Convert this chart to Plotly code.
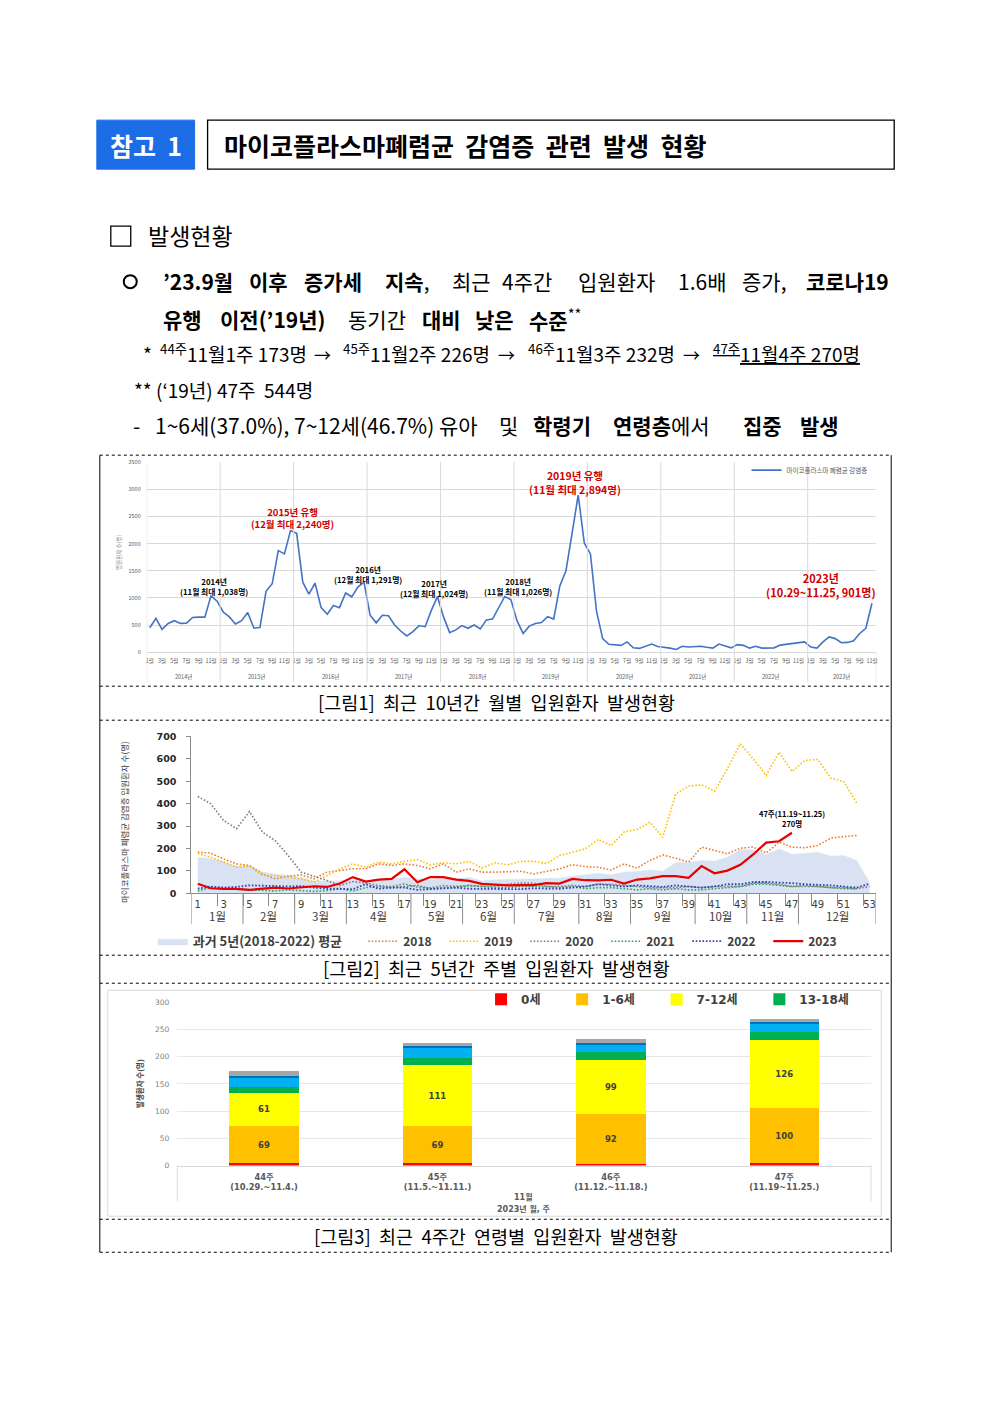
import plotly.graph_objects as go

# ---------------- data: figure 1 (monthly inpatients, 2014.1 ~ 2023.11) ----------------
years_m = [2014, 2015, 2016, 2017, 2018, 2019, 2020, 2021, 2022, 2023]
m2014 = [450, 625, 420, 530, 580, 530, 535, 640, 645, 645, 1038, 940]
m2015 = [740, 650, 520, 580, 730, 445, 455, 1120, 1260, 1870, 1810, 2240]
m2016 = [2190, 1290, 1070, 1270, 820, 700, 860, 820, 1090, 1020, 1200, 1291]
m2017 = [680, 540, 680, 670, 500, 390, 300, 380, 490, 470, 770, 1024]
m2018 = [650, 360, 410, 490, 440, 500, 430, 595, 610, 830, 1026, 970]
m2019 = [580, 345, 480, 530, 545, 655, 610, 1220, 1500, 2190, 2894, 2010]
m2020 = [1810, 750, 250, 145, 130, 125, 190, 80, 70, 110, 150, 105]
m2021 = [95, 75, 50, 110, 95, 100, 110, 90, 75, 150, 120, 80]
m2022 = [140, 125, 75, 110, 75, 75, 80, 130, 145, 150, 170, 190]
m2023 = [95, 75, 190, 280, 250, 175, 180, 210, 345, 440, 901]
monthly_series = [m2014, m2015, m2016, m2017, m2018, m2019, m2020, m2021, m2022, m2023]
month_tick_months = [1, 3, 5, 7, 9, 11]

# ---------------- data: figure 2 (weekly inpatients) ----------------
weeks = list(range(1, 54))
avg_2018_2022 = [160, 155, 140, 120, 125, 95, 85, 80, 70, 55, 55, 55, 60, 55, 60, 65, 70, 65, 60, 65,
                 65, 70, 55, 60, 61, 62, 64, 65, 67, 76, 82, 89, 82, 94, 97, 104, 98, 136, 136, 146,
                 143, 161, 194, 194, 173, 198, 173, 179, 183, 165, 168, 146, 49]
w2018 = [183, 179, 153, 131, 124, 86, 64, 76, 82, 64, 94, 101, 109, 109, 131, 124, 131, 124, 109, 131,
         94, 109, 94, 94, 97, 98, 86, 97, 109, 127, 119, 116, 104, 131, 112, 146, 171, 156, 139, 206,
         191, 176, 201, 206, 180, 228, 206, 203, 213, 246, 253, 258, None]
w2019 = [176, 161, 139, 116, 121, 79, 79, 72, 64, 49, 79, 109, 131, 116, 139, 131, 142, 150, 127, 136,
         131, 142, 112, 136, 127, 142, 142, 133, 168, 183, 198, 240, 213, 273, 285, 317, 250, 444, 478, 484,
         456, 556, 668, 600, 526, 630, 544, 593, 598, 514, 499, 404, None]
w2020 = [432, 400, 325, 288, 365, 273, 235, 168, 94, 76, 57, 34, 52, 45, 34, 30, 42, 27, 24, 34,
         31, 34, 30, 30, 40, 45, 45, 30, 30, 35, 30, 40, 40, 35, 30, 25, 25, 25, 30, 25,
         30, 30, 30, 45, 45, 40, 30, 30, 30, 25, 25, 20, 30]
w2021 = [10, 25, 20, 18, 15, 15, 10, 15, 12, 8, 12, 20, 10, 25, 30, 25, 30, 35, 20, 25,
         25, 35, 30, 25, 25, 30, 30, 30, 25, 30, 20, 25, 25, 20, 15, 20, 15, 20, 15, 15,
         20, 25, 30, 40, 40, 35, 30, 35, 30, 25, 20, 20, None]
w2022 = [20, 30, 25, 28, 35, 35, 32, 30, 32, 25, 20, 20, 18, 40, 20, 25, 25, 15, 18, 20,
         25, 20, 20, 20, 20, 18, 22, 20, 20, 25, 30, 40, 35, 30, 35, 30, 28, 35, 30, 25,
         30, 40, 40, 50, 50, 48, 45, 40, 38, 35, 30, 25, 42]
w2023 = [42, 22, 19, 19, 15, 19, 25, 21, 25, 31, 28, 43, 72, 52, 61, 64, 107, 49, 72, 72,
         61, 55, 42, 37, 35, 36, 36, 45, 43, 64, 58, 57, 60, 43, 61, 66, 76, 76, 69, 121,
         89, 101, 127, 173, 226, 232, 270]
month_names = ["1월", "2월", "3월", "4월", "5월", "6월", "7월", "8월", "9월", "10월", "11월", "12월"]
month_first_week = [1, 5, 9, 13, 18, 22, 26, 31, 35, 40, 44, 48, 54]

# ---------------- data: figure 3 (age groups, last 4 weeks) ----------------
week_labels = ["44주<br>(10.29.~11.4.)", "45주<br>(11.5.~11.11.)",
               "46주<br>(11.12.~11.18.)", "47주<br>(11.19~11.25.)"]
age_groups = ["0세", "1-6세", "7-12세", "13-18세", "19-49세", "50-64세", "65세 이상"]
age_0 = [4, 4, 3, 5]
age_1_6 = [69, 69, 92, 100]
age_7_12 = [61, 111, 99, 126]
age_13_18 = [11, 14, 14, 15]
age_19_49 = [17, 18, 13, 14]
age_50_64 = [3, 3, 5, 4]
age_65 = [8, 7, 6, 6]
age_series = [age_0, age_1_6, age_7_12, age_13_18, age_19_49, age_50_64, age_65]
age_colors = ["#FF0000", "#FFC000", "#FFFF00", "#00B050", "#00B0F0", "#0070C0", "#A6A6A6"]
age_labelled = [False, True, True, False, False, False, False]
age_in_legend = [True, True, True, True, False, False, False]

# ---------------- helpers ----------------
W, H = 992, 1403
OFF = 8          # page body margin of the html document
VS, VB = 0.99205, 5.95   # vertical calibration of the rendered page
KR = "Noto Sans CJK KR"
DV = "DejaVu Sans, Noto Sans CJK KR"
NB = "\u00a0"


def X(px):
    return (px - OFF) / W


def Y(py):
    return 1 - ((py - VB) / VS - OFF) / H


fig = go.Figure()
annotations = []
shapes = []


def text(px, py, s, size, color="#000000", anchor="left", family=KR, angle=0, yanchor="middle"):
    annotations.append(dict(x=X(px), y=Y(py), xref="paper", yref="paper", text=s, showarrow=False,
                            xanchor=anchor, yanchor=yanchor, textangle=angle,
                            font=dict(family=family, size=size, color=color)))


def hline(x0, x1, py, color="#000000", width=1, dash="solid"):
    shapes.append(dict(type="line", xref="paper", yref="paper", x0=X(x0), x1=X(x1), y0=Y(py), y1=Y(py),
                       line=dict(color=color, width=width, dash=dash)))


def vline(px, y0, y1, color="#000000", width=1, dash="solid"):
    shapes.append(dict(type="line", xref="paper", yref="paper", x0=X(px), x1=X(px), y0=Y(y0), y1=Y(y1),
                       line=dict(color=color, width=width, dash=dash)))


# ---------------- page header ----------------
shapes.append(dict(type="rect", xref="paper", yref="paper", x0=X(96), x1=X(194), y0=Y(169), y1=Y(120),
                   fillcolor="#1C6CE6", line=dict(color="#1C6CE6", width=1)))
text(145, 145, f"<b>참고{NB}{NB}1</b>", 25, "#FFFFFF", "center")
shapes.append(dict(type="rect", xref="paper", yref="paper", x0=X(207), x1=X(895), y0=Y(169), y1=Y(120),
                   fillcolor="#FFFFFF", line=dict(color="#000000", width=1.3)))
text(221, 145, f"<b>마이코플라스마폐렴균{NB}{NB}감염증{NB}{NB}관련{NB}{NB}발생{NB}{NB}현황</b>", 25)

shapes.append(dict(type="rect", xref="paper", yref="paper", x0=X(110), x1=X(130), y0=Y(246), y1=Y(226),
                   line=dict(color="#000000", width=1.3)))
text(145, 235, "발생현황", 23)

shapes.append(dict(type="circle", xref="paper", yref="paper", x0=X(123), x1=X(136), y0=Y(288), y1=Y(275),
                   line=dict(color="#000000", width=2)))
line1 = [("<b>’23.9월</b>", 160), ("<b>이후</b>", 246), ("<b>증가세</b>", 302), ("<b>지속</b>,", 383),
         ("최근", 450), ("4주간", 500), ("입원환자", 576), ("1.6배", 676), ("증가,", 740),
         ("<b>코로나19</b>", 805)]
for s, px in line1:
    text(px, 281, s, 21)
line2 = [("<b>유행</b>", 160), ("<b>이전(’19년)</b>", 217), ("동기간", 346), ("<b>대비</b>", 420),
         ("<b>낮은</b>", 473), ("<b>수준</b><sup>**</sup>", 527)]
for s, px in line2:
    text(px, 319, s, 21)
line3 = [("*", 140), ("<sup>44주</sup>11월1주 173명", 157), ("<sup>45주</sup>11월2주 226명", 341),
         ("<sup>46주</sup>11월3주 232명", 526), ("<u><sup>47주</sup>11월4주 270명</u>", 711)]
for s, px in line3:
    text(px, 353, s, 19)
for px in [322, 507, 692]:
    text(px, 354, "→", 17, "#000000", "center")
text(131, 389, f"** (‘19년) 47주{NB}{NB}544명", 19)
line5 = [("-", 130), ("1~6세(37.0%),", 152), ("7~12세(46.7%)", 292), ("유아", 437), ("및", 497),
         ("<b>학령기</b>", 531), ("<b>연령층</b>에서", 611), ("<b>집중</b>", 741), ("<b>발생</b>", 799)]
for s, px in line5:
    text(px, 425, s, 21)

# ---------------- frame & captions ----------------
vline(99, 455, 1252, "#000000", 1)
vline(892, 455, 1252, "#000000", 1)
for py in [455, 686, 720, 955, 983, 1219, 1252]:
    hline(99, 892, py, "#000000", 1, "dot")
for py, cap in [(702, "[그림1] 최근 10년간 월별 입원환자 발생현황"),
                (968, "[그림2] 최근 5년간 주별 입원환자 발생현황"),
                (1236, "[그림3] 최근 4주간 연령별 입원환자 발생현황")]:
    text(496, py, cap.replace(" ", NB + NB), 18.5, "#000000", "center")

# ---------------- figure 1 ----------------
x1, y1 = [], []
tickvals1, ticktext1 = [], []
for yi, vals in enumerate(monthly_series):
    for mi, v in enumerate(vals):
        x1.append(yi * 12 + mi)
        y1.append(v)
    for m in month_tick_months:
        if m <= len(vals):
            tickvals1.append(yi * 12 + m - 1)
            ticktext1.append(f"{m}월")
n_months = len(x1)

fig.add_trace(go.Scatter(x=x1, y=y1, mode="lines", name="마이코플라스마 폐렴균 감염증",
                         line=dict(color="#4472C4", width=1.6), xaxis="x", yaxis="y", legend="legend"))

for yi, yr in enumerate(years_m):
    shapes.append(dict(type="line", xref="x", yref="paper", x0=yi * 12 - 0.5, x1=yi * 12 - 0.5,
                       y0=Y(682), y1=Y(462), line=dict(color="#D9D9D9", width=1)))
    nvals = len(monthly_series[yi])
    annotations.append(dict(x=yi * 12 + (nvals - 1) / 2, y=Y(677), xref="x", yref="paper",
                            text=f"{yr}년", showarrow=False, xanchor="center", yanchor="middle",
                            font=dict(family=KR, size=5.5, color="#595959")))
shapes.append(dict(type="line", xref="x", yref="paper", x0=n_months - 0.3, x1=n_months - 0.3,
                   y0=Y(682), y1=Y(652), line=dict(color="#D9D9D9", width=1)))
text(118, 552, "입원환자 수(명)", 5.5, "#7F7F7F", "center", angle=-90)

red = "#D00000"
# peak call-outs (two-line labels)
for (px, py, t1, t2, size, col) in [
        (213, 586, "2014년", "(11월 최대 1,038명)", 7.8, "#000000"),
        (292, 517.5, "2015년 유행", "(12월 최대 2,240명)", 9.5, red),
        (368, 574.5, "2016년", "(12월 최대 1,291명)", 7.8, "#000000"),
        (434, 588, "2017년", "(12월 최대 1,024명)", 7.8, "#000000"),
        (518, 586.5, "2018년", "(11월 최대 1,026명)", 7.8, "#000000"),
        (575, 482, "2019년 유행", "(11월 최대 2,894명)", 10.5, red),
        (822, 584.5, "2023년", "(10.29~11.25, 901명)", 11, red)]:
    text(px, py, f"<b>{t1}</b><br><b>{t2}</b>", size, col, "center")

# ---------------- figure 2 ----------------
fig.add_trace(go.Scatter(x=weeks, y=avg_2018_2022, mode="lines", fill="tozeroy", name="과거 5년(2018-2022) 평균",
                         fillcolor="#D9E2F3", line=dict(color="#D9E2F3", width=0.5),
                         xaxis="x2", yaxis="y2", legend="legend2"))
DOT = "1.6px,1.8px"
line_specs = [("2018", w2018, "#ED7D31", DOT, 1.6), ("2019", w2019, "#FFC000", DOT, 1.6),
              ("2020", w2020, "#7F7F7F", DOT, 1.6), ("2021", w2021, "#33A05A", DOT, 1.6),
              ("2022", w2022, "#2E3DB8", DOT, 1.8), ("2023", w2023, "#E60000", "solid", 2.2)]
for name, vals, color, dash, width in line_specs:
    fig.add_trace(go.Scatter(x=weeks[:len(vals)], y=vals, mode="lines", name=name,
                             line=dict(color=color, width=width, dash=dash),
                             xaxis="x2", yaxis="y2", legend="legend4"))

for i in range(len(month_names)):
    a, b = month_first_week[i], month_first_week[i + 1]
    annotations.append(dict(x=(a + b - 1) / 2, y=Y(916), xref="x2", yref="paper", text=month_names[i],
                            showarrow=False, xanchor="center", yanchor="middle",
                            font=dict(family=KR, size=11.5, color="#404040")))
for b in month_first_week:
    shapes.append(dict(type="line", xref="x2", yref="paper", x0=b - 0.5, x1=b - 0.5, y0=Y(893), y1=Y(924),
                       line=dict(color="#8C8C8C", width=1)))
text(123, 822, "마이코플라스마 폐렴균 감염증 입원환자 수(명)", 8.5, "#404040", "center", angle=-90)
annotations.append(dict(x=47, y=Y(818), xref="x2", yref="paper",
                        text="<b>47주(11.19~11.25)</b><br><b>270명</b>", showarrow=False,
                        xanchor="center", yanchor="middle",
                        font=dict(family=KR, size=7.5, color="#000000")))

# ---------------- figure 3 ----------------
for name, vals, color, lab, inleg in zip(age_groups, age_series, age_colors, age_labelled, age_in_legend):
    fig.add_trace(go.Bar(x=week_labels, y=vals, name=name + NB * 4 if inleg else name,
                         marker=dict(color=color, line=dict(width=0)),
                         text=[str(v) for v in vals] if lab else None,
                         textposition="inside" if lab else None, insidetextanchor="middle",
                         textfont=dict(family="DejaVu Sans", size=8.5, color="#404040", weight="bold"),
                         showlegend=inleg, xaxis="x3", yaxis="y3", legend="legend3"))
shapes.append(dict(type="rect", xref="paper", yref="paper", x0=X(107), x1=X(882), y0=Y(1216), y1=Y(990),
                   line=dict(color="#D9D9D9", width=1)))
vline(176.7, 1165, 1201, "#D9D9D9", 1)
vline(871.7, 1165, 1201, "#D9D9D9", 1)
text(524, 1197, "<b>11월</b>", 8, "#595959", "center", family=DV)
text(524, 1209, "<b>2023년 월, 주</b>", 8, "#595959", "center", family=DV)
text(138, 1083, "<b>발생환자 수(명)</b>", 7.5, "#404040", "center", angle=-90)

fig.update_layout(
    width=W, height=H, margin=dict(l=0, r=0, t=0, b=0),
    paper_bgcolor="#FFFFFF", plot_bgcolor="rgba(0,0,0,0)",
    font=dict(family=KR), barmode="stack", bargap=0.6, showlegend=True,
    annotations=annotations, shapes=shapes,
    xaxis=dict(domain=[X(146), X(877)], range=[-0.5, n_months - 0.3], tickmode="array",
               tickvals=tickvals1, ticktext=ticktext1, tickangle=0, showgrid=False, zeroline=False,
               showline=True, linecolor="#D9D9D9", ticks="", ticklabelstandoff=3,
               tickfont=dict(family=KR, size=5.5, color="#595959"), anchor="y"),
    yaxis=dict(domain=[Y(652), Y(462)], range=[0, 3500], dtick=500, showgrid=True, gridcolor="#D9D9D9",
               zeroline=False, showline=False, ticks="", ticklabelstandoff=5,
               tickfont=dict(family=KR, size=5.5, color="#595959"), anchor="x"),
    xaxis2=dict(domain=[X(190.7), X(876.7)], range=[0.5, 53.5], tickmode="array",
                tickvals=weeks[::2], ticktext=[str(w) for w in weeks[::2]], tickangle=0,
                showgrid=False, zeroline=False, showline=True, linecolor="#8C8C8C", ticks="",
                ticklabelstandoff=2,
                minor=dict(tickvals=[w + 1.5 for w in weeks[:-1:2]], ticks="outside", ticklen=12,
                           tickcolor="#8C8C8C", showgrid=False),
                tickfont=dict(family="DejaVu Sans", size=10, color="#404040"), anchor="y2"),
    yaxis2=dict(domain=[Y(893), Y(736.3)], range=[0, 700], dtick=100, showgrid=False, zeroline=False,
                showline=True, linecolor="#8C8C8C", ticks="outside", ticklen=4, tickcolor="#8C8C8C",
                ticklabelstandoff=8,
                tickfont=dict(family="DejaVu Sans", size=9.5, color="#262626", weight="bold"), anchor="x2"),
    xaxis3=dict(domain=[X(176.7), X(871.7)], range=[-0.5, 3.5], type="category", showgrid=False,
                zeroline=False, showline=True, linecolor="#D9D9D9", ticks="", ticklabelstandoff=3,
                tickfont=dict(family=DV, size=8.3, color="#595959", weight="bold"), anchor="y3"),
    yaxis3=dict(domain=[Y(1165.3), Y(1002)], range=[0, 300], dtick=50, showgrid=True, gridcolor="#E7E7E7",
                zeroline=False, showline=False, ticks="", ticklabelstandoff=7,
                tickfont=dict(family="DejaVu Sans", size=7.5, color="#7F7F7F"), anchor="x3"),
    legend=dict(x=X(747), y=Y(470), xanchor="left", yanchor="middle", orientation="h",
                bgcolor="rgba(0,0,0,0)", font=dict(family=KR, size=6.5, color="#595959")),
    legend2=dict(x=X(152), y=Y(941), xanchor="left", yanchor="middle", orientation="h",
                 bgcolor="rgba(0,0,0,0)", font=dict(family=KR, size=13, color="#404040", weight="bold")),
    legend4=dict(x=X(363), y=Y(941), xanchor="left", yanchor="middle", orientation="h",
                 entrywidth=36, entrywidthmode="pixels",
                 bgcolor="rgba(0,0,0,0)", font=dict(family=KR, size=12, color="#404040", weight="bold")),
    legend3=dict(x=X(481), y=Y(999), xanchor="left", yanchor="middle", orientation="h",
                 traceorder="normal",
                 bgcolor="rgba(0,0,0,0)", font=dict(family=DV, size=12, color="#404040", weight="bold")),
    uniformtext=dict(minsize=6, mode="show"),
)

fig.write_html("out.html")
